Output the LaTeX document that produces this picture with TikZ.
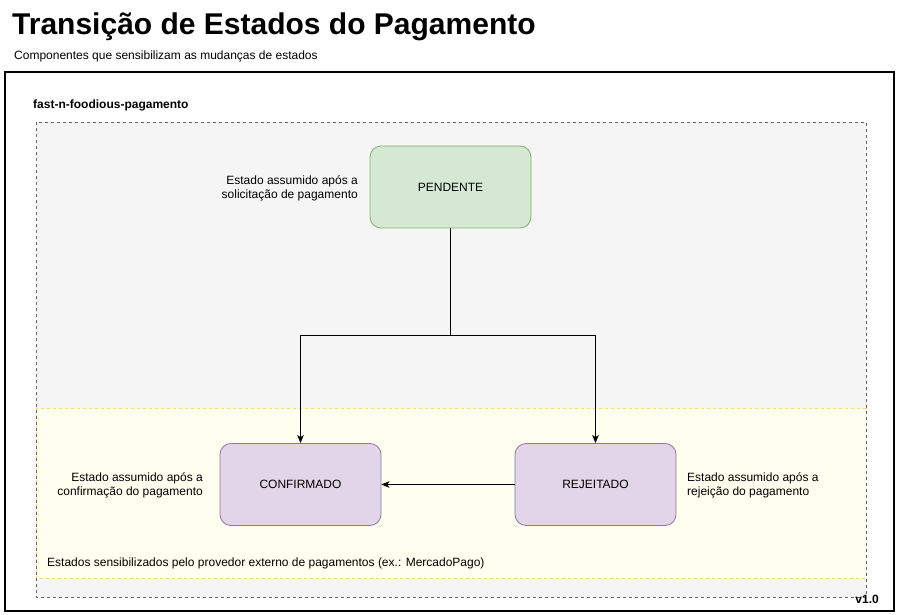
\documentclass[tikz,border=0pt]{standalone}
\usepackage{fontspec}
\setmainfont{Liberation Sans}
\usetikzlibrary{arrows.meta}
\definecolor{grayfill}{HTML}{F5F5F5}
\definecolor{grayline}{HTML}{666666}
\definecolor{yelfill}{HTML}{FFFFF0}
\definecolor{yelline}{HTML}{FFD966}
\definecolor{greenfill}{HTML}{D5E8D4}
\definecolor{greenline}{HTML}{82B366}
\definecolor{purfill}{HTML}{E1D5E7}
\definecolor{purline}{HTML}{9673A6}
\tikzset{
  statebox/.style={rectangle, rounded corners=11pt, minimum width=161pt, minimum height=82pt, line width=0.8pt, font=\fontsize{12}{14}\selectfont, inner sep=0pt},
  greenbox/.style={statebox, draw=greenline, fill=greenfill},
  purbox/.style={statebox, draw=purline, fill=purfill},
  note/.style={font=\fontsize{12}{14}\selectfont, inner sep=0pt},
  conn/.style={line width=0.9pt, -{Stealth[length=8pt,width=6.5pt,inset=2pt]}},
  plainconn/.style={line width=0.9pt}
}
\begin{document}
\begin{tikzpicture}[x=1pt,y=-1pt]
\useasboundingbox (0,0) rectangle (898,615);
\fill[white] (0,0) rectangle (898,615);
% title
\node[anchor=base west, inner sep=0pt, font=\fontsize{30}{34}\selectfont\bfseries] (title) at (12,35) {Transição de Estados do Pagamento};
\node[anchor=base west, inner sep=0pt, font=\fontsize{12}{14}\selectfont] (subtitle) at (14,60) {Componentes que sensibilizam as mudanças de estados};
% outer frame
\draw[line width=1.2pt] (5,72) rectangle (894,611);
\node[anchor=west, inner sep=0pt, font=\fontsize{12}{14}\selectfont\bfseries] (service) at (33,105) {fast-n-foodious-pagamento};
% gray dashed region
\fill[grayfill] (36,122) rectangle (866,597);
\draw[yelline, fill=yelfill, line width=0.7pt, dash pattern=on 3pt off 3pt] (36,408) rectangle (866,578);
\draw[grayline, line width=0.7pt, dash pattern=on 3pt off 3pt] (36,122) rectangle (866,597);
% states
\node[greenbox] (pend) at (450.5,187) {PENDENTE};
\node[purbox] (conf) at (300.5,484.5) {CONFIRMADO};
\node[purbox] (rej) at (595.5,484.5) {REJEITADO};
% notes
\node[note, align=right, anchor=east] (npend) at (358,188) {Estado assumido após a\\solicitação de pagamento};
\node[note, align=right, anchor=east] (nconf) at (203,485) {Estado assumido após a\\confirmação do pagamento};
\node[note, align=left, anchor=west] (nrej) at (687,485) {Estado assumido após a\\rejeição do pagamento};
\node[note, anchor=west] (ext) at (47,563) {Estados sensibilizados pelo provedor externo de pagamentos (ex.: MercadoPago)};
\node[anchor=east, inner sep=0pt, font=\fontsize{12}{14}\selectfont\bfseries] (ver) at (879,599) {v1.0};
% connectors
\coordinate (split) at (450.5,335);
\draw[plainconn] (pend.south) -- (split);
\draw[conn] (split) -| (conf.north);
\draw[conn] (split) -| (rej.north);
\draw[conn] (rej.west) -- (conf.east);
\end{tikzpicture}
\end{document}
